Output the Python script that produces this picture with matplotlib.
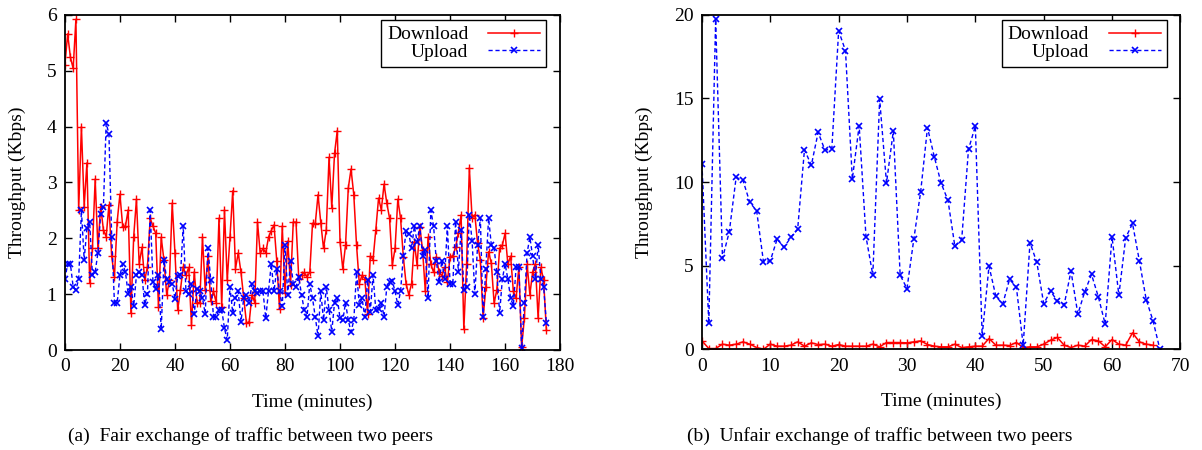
import numpy as np
import matplotlib
matplotlib.use("Agg")
import matplotlib.pyplot as plt

plt.rcParams['font.family'] = ['Liberation Serif', 'DejaVu Serif']
plt.rcParams['font.size'] = 14

# --- (a) fair exchange, one sample per minute ---
fair_download = [
    5.10, 5.66, 5.24, 5.04, 5.92, 2.50, 4.00, 2.57, 3.35, 1.20,
    1.82, 3.06, 1.82, 2.57, 2.15, 2.03, 2.60, 1.68, 1.31, 2.30,
    2.79, 2.21, 2.22, 2.51, 0.66, 2.03, 2.70, 1.54, 1.84, 1.25,
    1.49, 2.36, 2.22, 2.09, 0.78, 2.02, 1.61, 0.99, 1.25, 2.63,
    1.74, 0.72, 1.08, 1.49, 1.34, 1.48, 0.45, 1.40, 0.85, 0.85,
    2.02, 1.08, 1.68, 0.87, 1.05, 0.85, 2.36, 0.78, 2.51, 1.25,
    2.02, 2.85, 1.46, 1.74, 1.39, 0.93, 0.48, 0.51, 0.99, 0.85,
    2.29, 1.73, 1.82, 1.74, 2.02, 2.14, 2.24, 1.60, 0.73, 2.22,
    1.03, 1.95, 1.16, 2.29, 2.29, 1.28, 1.34, 1.39, 1.31, 1.39,
    2.27, 2.26, 2.78, 2.28, 1.82, 2.15, 3.45, 2.55, 3.52, 3.93,
    1.94, 1.45, 1.88, 2.90, 3.24, 2.78, 1.88, 1.19, 1.34, 1.28,
    0.65, 1.68, 1.62, 2.15, 2.72, 2.51, 2.97, 2.63, 2.36, 1.52,
    1.82, 2.70, 2.36, 1.67, 1.19, 0.99, 1.19, 1.94, 1.52, 2.21,
    1.79, 1.05, 2.02, 1.54, 1.39, 1.67, 1.39, 1.33, 1.48, 1.21,
    1.67, 1.69, 1.84, 2.09, 2.42, 0.37, 1.54, 3.26, 2.36, 2.42,
    1.91, 1.61, 0.57, 1.13, 1.76, 1.55, 0.84, 1.08, 1.82, 1.88,
    2.09, 1.54, 1.68, 1.05, 0.93, 1.49, 0.05, 0.57, 1.54, 0.99,
    1.40, 1.54, 0.57, 1.48, 1.25, 0.36,
]
fair_upload = [
    1.27, 1.54, 1.54, 1.13, 1.08, 1.27, 2.50, 1.62, 2.18, 2.30,
    1.34, 1.40, 1.74, 2.44, 2.57, 4.06, 3.87, 2.03, 0.85, 0.85,
    1.34, 1.54, 1.40, 1.00, 1.13, 0.79, 1.34, 1.40, 1.34, 0.81,
    1.00, 2.50, 1.22, 1.09, 1.34, 0.37, 1.61, 1.27, 1.21, 1.19,
    0.92, 1.33, 1.34, 2.22, 1.05, 1.00, 1.19, 0.65, 1.10, 1.05,
    0.93, 0.65, 1.82, 1.25, 0.60, 0.60, 0.72, 0.72, 0.39, 0.18,
    1.13, 0.66, 0.93, 1.05, 0.51, 0.93, 0.99, 0.85, 1.19, 1.05,
    1.03, 1.05, 1.05, 0.57, 1.05, 1.54, 1.05, 1.45, 1.05, 0.79,
    1.88, 0.99, 1.60, 1.19, 1.13, 1.31, 0.99, 0.72, 0.59, 1.19,
    0.93, 0.59, 0.25, 1.05, 0.53, 1.13, 0.72, 0.33, 0.85, 0.93,
    0.57, 0.53, 0.85, 0.53, 0.33, 0.53, 1.39, 0.81, 0.93, 0.59,
    1.25, 0.69, 1.34, 0.72, 0.73, 0.85, 0.60, 1.13, 1.21, 1.24,
    1.05, 0.81, 1.05, 1.68, 2.14, 2.08, 1.82, 2.22, 1.94, 2.22,
    1.68, 1.79, 0.93, 2.50, 2.22, 1.60, 1.21, 1.60, 1.27, 2.22,
    1.19, 1.19, 2.30, 1.40, 2.15, 1.08, 1.13, 2.42, 1.96, 1.00,
    1.88, 2.36, 0.59, 1.46, 2.36, 1.88, 1.82, 1.40, 0.66, 1.27,
    1.54, 1.27, 0.93, 0.79, 1.49, 1.49, 0.03, 0.85, 1.74, 2.02,
    1.68, 1.28, 1.88, 1.28, 1.13, 0.49,
]
fair_time = np.arange(len(fair_download))

# --- (b) unfair exchange ---
unfair_upload = [
    11.06, 1.54, 19.74, 5.43, 7.03, 10.28, 10.10, 8.78, 8.28, 5.23,
    5.29, 6.59, 6.09, 6.69, 7.17, 11.94, 11.00, 12.97, 11.90, 11.98,
    19.04, 17.86, 10.18, 13.37, 6.73, 4.43, 14.95, 9.94, 13.05, 4.43,
    3.63, 6.59, 9.42, 13.25, 11.50, 9.92, 8.90, 6.17, 6.53, 11.96,
    13.35, 0.80, 4.97, 3.17, 2.69, 4.17, 3.73, 0.24, 6.37, 5.19,
    2.73, 3.47, 2.89, 2.67, 4.67, 2.10, 3.43, 4.47, 3.13, 1.50,
    6.73, 3.23, 6.67, 7.52, 5.29, 2.97, 1.70, 0.00,
]
unfair_download = [
    0.50, 0.04, 0.04, 0.30, 0.24, 0.30, 0.44, 0.30, 0.10, 0.00,
    0.30, 0.18, 0.18, 0.24, 0.44, 0.18, 0.38, 0.28, 0.30, 0.18,
    0.28, 0.18, 0.18, 0.18, 0.18, 0.30, 0.14, 0.40, 0.40, 0.40,
    0.38, 0.44, 0.50, 0.28, 0.18, 0.14, 0.14, 0.30, 0.10, 0.14,
    0.18, 0.18, 0.64, 0.24, 0.24, 0.22, 0.40, 0.10, 0.14, 0.14,
    0.30, 0.54, 0.70, 0.24, 0.10, 0.24, 0.18, 0.58, 0.50, 0.14,
    0.58, 0.30, 0.24, 0.98, 0.44, 0.30, 0.24,
]
unfair_time_up = np.arange(len(unfair_upload))
unfair_time_down = np.arange(len(unfair_download))

fig = plt.figure(figsize=(12.02, 4.5), dpi=100)
ax1 = fig.add_axes([0.054, 0.222, 0.412, 0.745])
ax2 = fig.add_axes([0.584, 0.224, 0.398, 0.743])

red = '#ff0000'
blue = '#0000ff'


def style_axes(ax, anchor):
    for s in ax.spines.values():
        s.set_linewidth(1.3)
    ax.tick_params(direction='in', length=5, width=1, top=True, right=True,
                   labelsize=14, pad=6)
    ax.set_xlabel("Time (minutes)", fontsize=14, labelpad=13)
    ax.set_ylabel("Throughput (Kbps)", fontsize=14, labelpad=15)
    leg = ax.legend(loc='upper right', bbox_to_anchor=anchor, borderaxespad=0,
                    markerfirst=False, fancybox=False,
                    edgecolor='black', framealpha=1, fontsize=14,
                    handlelength=2.7, handletextpad=1.0, borderpad=0.3,
                    labelspacing=0.0)
    leg.get_frame().set_linewidth(1.0)


# (a)
ax1.plot(fair_time, fair_download, color=red, lw=1.1, marker='+', ms=6,
         mew=1, label='Download')
ax1.plot(fair_time, fair_upload, color=blue, lw=1, ls=(0, (3, 2)),
         marker='x', ms=4.5, mew=1.2, label='Upload')
ax1.set_xlim(0, 180)
ax1.set_ylim(0, 6)
ax1.set_xticks(np.arange(0, 181, 20))
ax1.set_yticks(np.arange(0, 7, 1))
style_axes(ax1, (0.972, 0.985))

# (b)
ax2.plot(unfair_time_down, unfair_download, color=red, lw=1.1, marker='+',
         ms=6, mew=1, label='Download')
ax2.plot(unfair_time_up, unfair_upload, color=blue, lw=1, ls=(0, (3, 2)),
         marker='x', ms=4.5, mew=1.2, label='Upload')
ax2.set_xlim(0, 70)
ax2.set_ylim(0, 20)
ax2.set_xticks(np.arange(0, 71, 10))
ax2.set_yticks(np.arange(0, 21, 5))
style_axes(ax2, (0.972, 0.985))

fig.text(0.208, 0.03, "(a)  Fair exchange of traffic between two peers",
         ha='center', va='center', fontsize=14)
fig.text(0.732, 0.03, "(b)  Unfair exchange of traffic between two peers",
         ha='center', va='center', fontsize=14)

fig.savefig("out.png", dpi=100)
